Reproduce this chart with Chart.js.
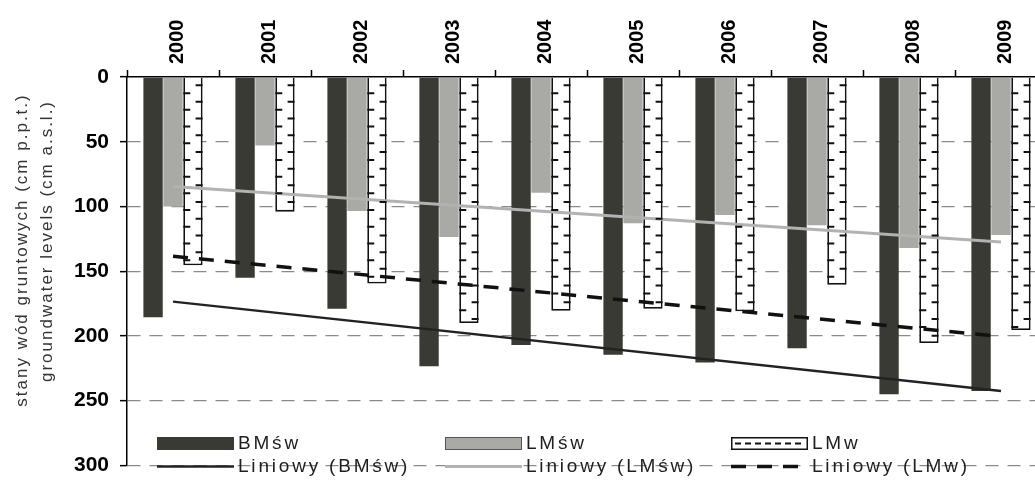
<!DOCTYPE html>
<html>
<head>
<meta charset="utf-8">
<script src="https://cdn.jsdelivr.net/npm/chart.js@4"></script>
<style>
  html, body { margin: 0; padding: 0; background: #fff; overflow: hidden; }
  #wrap { width: 1048px; height: 489px; position: relative; }
</style>
</head>
<body>
<div id="wrap"><canvas id="chart"></canvas></div>
<script>
const years = ['2000', '2001', '2002', '2003', '2004', '2005', '2006', '2007', '2008', '2009'];
const bmSw = [185.5, 155, 179, 223.5, 207, 214.5, 220.5, 209.5, 245, 242.5];
const lmSw = [100, 53, 103.5, 123.5, 89.5, 113, 106.5, 114.5, 132, 122];
const lmW = [145.5, 104, 159.5, 190, 180.5, 179, 181, 160.5, 205.5, 195.5];
// trend lines: values read at the first and last year
const trendBmSw = [173.5, 242.5];
const trendLmSw = [84.5, 127.5];
const trendLmW = [138.5, 200.5];
const yTicks = [0, 50, 100, 150, 200, 250, 300];

const DARK = '#393a33';
const GREY = '#a9a9a5';
const FONT = "'Liberation Sans', Arial, sans-serif";

function ends(pair) {
    const arr = years.map(() => null);
    arr[0] = pair[0];
    arr[arr.length - 1] = pair[1];
    return arr;
}

// short dashes inside the LMw bars
const hatchPlugin = {
    id: 'hatch',
    afterDatasetsDraw(chart) {
        const meta = chart.getDatasetMeta(2);
        const ctx = chart.ctx;
        ctx.save();
        ctx.strokeStyle = '#111';
        ctx.lineWidth = 2;
        meta.data.forEach(bar => {
            const left = bar.x - bar.width / 2;
            const right = bar.x + bar.width / 2;
            const top = Math.min(bar.y, bar.base);
            const bottom = Math.max(bar.y, bar.base);
            ctx.beginPath();
            for (let y = top + 7.5; y < bottom - 3; y += 16.7) {
                ctx.moveTo(right - 7, y);
                ctx.lineTo(right, y);
            }
            for (let y = top + 15.5; y < bottom - 3; y += 16.7) {
                ctx.moveTo(left, y);
                ctx.lineTo(left + 7, y);
            }
            ctx.stroke();
        });
        ctx.restore();
    }
};

// legend in two rows inside the plot + two-line axis title
const extrasPlugin = {
    id: 'extras',
    afterDraw(chart) {
        const ctx = chart.ctx;
        const a = chart.chartArea;
        const cols = [a.left + 30, a.left + 318, a.left + 604];
        const boxW = 77, row1 = 443.5, row2 = 466.5;
        ctx.save();
        // row 1: boxes
        ctx.fillStyle = DARK;
        ctx.fillRect(cols[0], row1 - 6.5, boxW, 13);
        ctx.fillStyle = GREY;
        ctx.fillRect(cols[1], row1 - 6.5, boxW, 13);
        ctx.strokeStyle = '#555';
        ctx.lineWidth = 1;
        ctx.strokeRect(cols[1] + 0.5, row1 - 6, boxW - 1, 12);
        ctx.fillStyle = '#fff';
        ctx.fillRect(cols[2], row1 - 6.5, boxW, 13);
        ctx.strokeStyle = '#111';
        ctx.lineWidth = 1.5;
        ctx.strokeRect(cols[2] + 0.75, row1 - 5.75, boxW - 1.5, 11.5);
        ctx.setLineDash([6, 4]);
        ctx.lineWidth = 2;
        ctx.beginPath();
        ctx.moveTo(cols[2] + 4, row1);
        ctx.lineTo(cols[2] + boxW - 3, row1);
        ctx.stroke();
        ctx.setLineDash([]);
        // row 2: line samples
        ctx.lineWidth = 2.5;
        ctx.strokeStyle = '#222';
        ctx.beginPath();
        ctx.moveTo(cols[0], row2);
        ctx.lineTo(cols[0] + boxW, row2);
        ctx.stroke();
        ctx.strokeStyle = '#b2b2b2';
        ctx.lineWidth = 3;
        ctx.beginPath();
        ctx.moveTo(cols[1], row2);
        ctx.lineTo(cols[1] + boxW, row2);
        ctx.stroke();
        ctx.strokeStyle = '#111';
        ctx.lineWidth = 3.5;
        ctx.setLineDash([15, 11]);
        ctx.beginPath();
        ctx.moveTo(cols[2], row2);
        ctx.lineTo(cols[2] + boxW, row2);
        ctx.stroke();
        ctx.setLineDash([]);
        // legend texts
        ctx.fillStyle = '#1e1e1e';
        ctx.font = '19px ' + FONT;
        ctx.letterSpacing = '2.8px';
        ctx.textBaseline = 'middle';
        const labels = [['BMśw', 'LMśw', 'LMw'], ['Liniowy (BMśw)', 'Liniowy (LMśw)', 'Liniowy (LMw)']];
        labels.forEach((row, r) => {
            row.forEach((txt, c) => {
                ctx.fillText(txt, cols[c] + boxW + 4, r === 0 ? row1 : row2);
            });
        });
        // axis title
        ctx.font = '17px ' + FONT;
        ctx.letterSpacing = '2px';
        ctx.fillStyle = '#333';
        ctx.textAlign = 'center';
        ctx.rotate(-Math.PI / 2);
        ctx.fillText('stany wód gruntowych (cm p.p.t.)', -250, 22);
        ctx.fillText('groundwater levels (cm a.s.l.)', -241, 47);
        ctx.restore();
    }
};

const ctx = document.getElementById('chart').getContext('2d');
const chart = new Chart(ctx, {
    type: 'bar',
    data: {
        labels: years,
        datasets: [
            { label: 'BMśw', data: bmSw, backgroundColor: DARK, order: 2 },
            { label: 'LMśw', data: lmSw, backgroundColor: GREY, order: 2 },
            { label: 'LMw', data: lmW, backgroundColor: '#fff', borderColor: '#111', borderWidth: 1.8, order: 2 },
            { type: 'line', label: 'Liniowy (BMśw)', data: ends(trendBmSw), borderColor: '#222', borderWidth: 2.5, spanGaps: true, pointRadius: 0, order: 1 },
            { type: 'line', label: 'Liniowy (LMśw)', data: ends(trendLmSw), borderColor: '#b2b2b2', borderWidth: 3, spanGaps: true, pointRadius: 0, order: 1 },
            { type: 'line', label: 'Liniowy (LMw)', data: ends(trendLmW), borderColor: '#111', borderWidth: 3.5, borderDash: [15, 11], spanGaps: true, pointRadius: 0, order: 0 }
        ]
    },
    options: {
        responsive: true,
        maintainAspectRatio: false,
        animation: false,
        layout: { padding: { left: 0, right: 1, top: 0, bottom: 9 } },
        datasets: {
            bar: { categoryPercentage: 0.65, barPercentage: 0.97, borderSkipped: 'start' }
        },
        plugins: {
            legend: { display: false },
            tooltip: { enabled: false }
        },
        scales: {
            x: {
                position: 'top',
                offset: true,
                afterFit(scale) { scale.height = 77; },
                grid: { drawOnChartArea: false, tickLength: 7, tickColor: '#000', tickWidth: 1.5 },
                border: { color: '#000', width: 1.5 },
                ticks: {
                    minRotation: 90, maxRotation: 90, padding: 6, color: '#000', labelOffset: 28,
                    font: { family: FONT, size: 20, weight: 'bold' }
                }
            },
            y: {
                reverse: true,
                min: 0,
                max: 300,
                afterFit(scale) { scale.width = 127; },
                afterBuildTicks(scale) { scale.ticks = yTicks.map(v => ({ value: v })); },
                grid: {
                    color: c => (c.tick && c.tick.value === 0) ? 'rgba(0,0,0,0)' : '#8a8a8a',
                    lineWidth: 1.3, tickLength: 7, tickColor: '#000', tickWidth: 1.5
                },
                border: { color: '#000', width: 1.5, dash: [13, 9] },
                ticks: {
                    padding: 11, color: '#000',
                    font: { family: FONT, size: 21, weight: 'bold' }
                }
            }
        }
    },
    plugins: [hatchPlugin, extrasPlugin]
});
</script>
</body>
</html>
